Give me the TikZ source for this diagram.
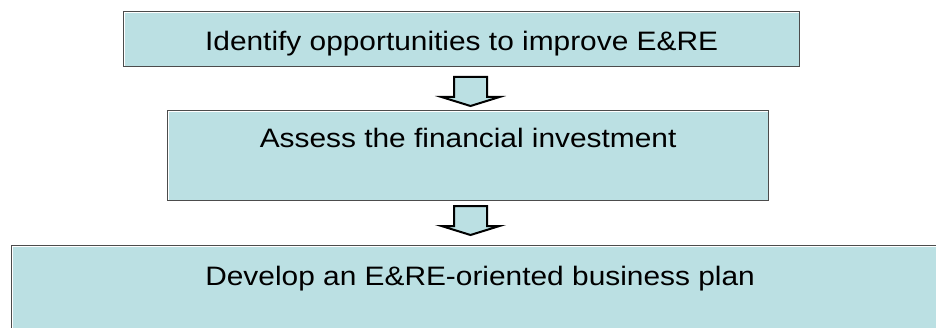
\documentclass[tikz,border=0pt]{standalone}
\usepackage{fontspec}
\setmainfont{Liberation Sans}[FakeStretch=1.12]
\usetikzlibrary{calc}
\definecolor{boxfill}{RGB}{187,224,227}

\tikzset{
  stepbox/.style={draw=black!70, line width=0.9pt, fill=boxfill, inner sep=0pt,
    anchor=north west, font=\fontsize{20}{24}\selectfont,
    path picture={\draw[white, line width=1.6pt] (path picture bounding box.south west)
      rectangle (path picture bounding box.north east);}},
  downarrow/.style={draw=black, line width=1.5pt, fill=boxfill, line join=miter}
}

\begin{document}
\begin{tikzpicture}[x=0.75pt, y=-0.75pt]
\useasboundingbox (0,0) rectangle (936,328);

% the three steps
\node[stepbox, minimum width=507pt, text height=29.5pt, text depth=11.75pt] (ident) at (123,11)
  {Identify opportunities to improve E\&RE};
\node[stepbox, minimum width=450.75pt, text height=27.75pt, text depth=39.75pt] (assess) at (167,110)
  {Assess the financial investment};
\node[stepbox, minimum width=702.75pt, text height=30pt, text depth=52.5pt] (plan) at (11,245)
  {Develop an E\&RE-oriented business plan};

% block arrows between the steps
\coordinate (arr1) at (470.5,77);
\coordinate (arr2) at (470.5,206);
\draw[downarrow] (arr1) ++(-16.5,0) -- ++(33,0) -- ++(0,20) -- ++(12.5,0) -- ++(-29,9)
  -- ++(-29,-9) -- ++(12.5,0) -- cycle;
\draw[downarrow] (arr2) ++(-16.5,0) -- ++(33,0) -- ++(0,20) -- ++(12.5,0) -- ++(-29,9)
  -- ++(-29,-9) -- ++(12.5,0) -- cycle;

\end{tikzpicture}
\end{document}
